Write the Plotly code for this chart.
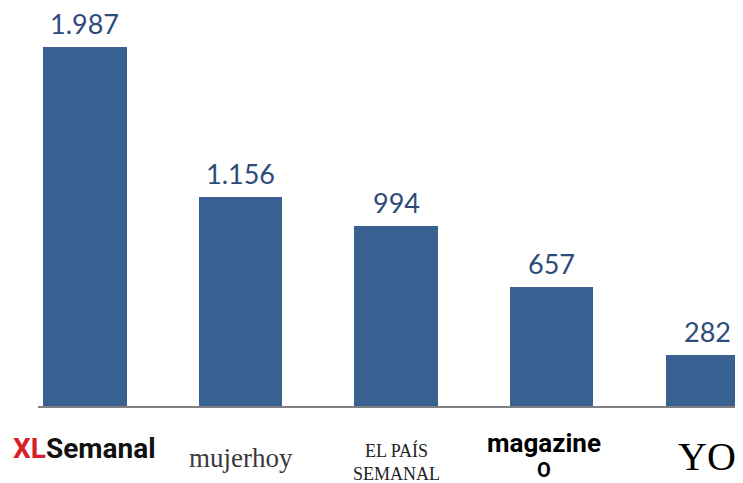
import plotly.graph_objects as go

categories = ["XLSemanal", "mujerhoy", "EL PAÍS SEMANAL", "magazine", "YO DONA"]
values = [1987, 1156, 994, 657, 282]

bar_color = "#386192"
label_color = "#2d4c7c"

fig = go.Figure()
fig.add_trace(go.Bar(
    x=list(range(len(categories))), y=values,
    marker=dict(color=bar_color, line=dict(width=0)),
    width=0.535,
    hoverinfo="skip",
))

for i, v in enumerate(values):
    fig.add_annotation(x=i, y=v, xref="x", yref="y",
                       text=f"{v:,}".replace(",", "."), showarrow=False,
                       yanchor="bottom", yshift=5,
                       font=dict(family="Lato", size=27, color=label_color))

fig.update_layout(
    width=735, height=475,
    margin=dict(l=30, r=0, t=0, b=77),
    paper_bgcolor="white", plot_bgcolor="white",
    showlegend=False,
    bargap=0,
    xaxis=dict(range=[-0.302, 4.23], showticklabels=False, showgrid=False,
               zeroline=False, showline=True, linecolor="#808080", linewidth=2,
               fixedrange=True),
    yaxis=dict(range=[0, 2203], visible=False, fixedrange=True),
)

# logo-like category labels
logos = [
    dict(x=0, y=-0.108, text="<b><span style='color:#d7202a'>XL</span>Semanal</b>",
         font=dict(family="Roboto", size=28, color="#111111")),
    dict(x=1, y=-0.13, text="mujerhoy",
         font=dict(family="Liberation Serif", size=27, color="#3a3a3a")),
    dict(x=2, y=-0.14, text="EL PAÍS<br>SEMANAL",
         font=dict(family="Liberation Serif", size=18, color="#222222")),
    dict(x=2.95, y=-0.122,
         text="<b><span style='font-size:26px'>magazine</span></b><br><b><span style='font-size:20px'>O</span></b>",
         font=dict(family="Roboto", size=19, color="#000000")),
    dict(x=4.0, y=-0.128, text="YO",
         font=dict(family="Liberation Serif", size=40, color="#000000")),
]
for lg in logos:
    fig.add_annotation(x=lg["x"], y=lg["y"], xref="x", yref="paper",
                       text=lg["text"], showarrow=False, font=lg["font"],
                       yanchor="middle", align="center")

fig.write_html("out.html")
